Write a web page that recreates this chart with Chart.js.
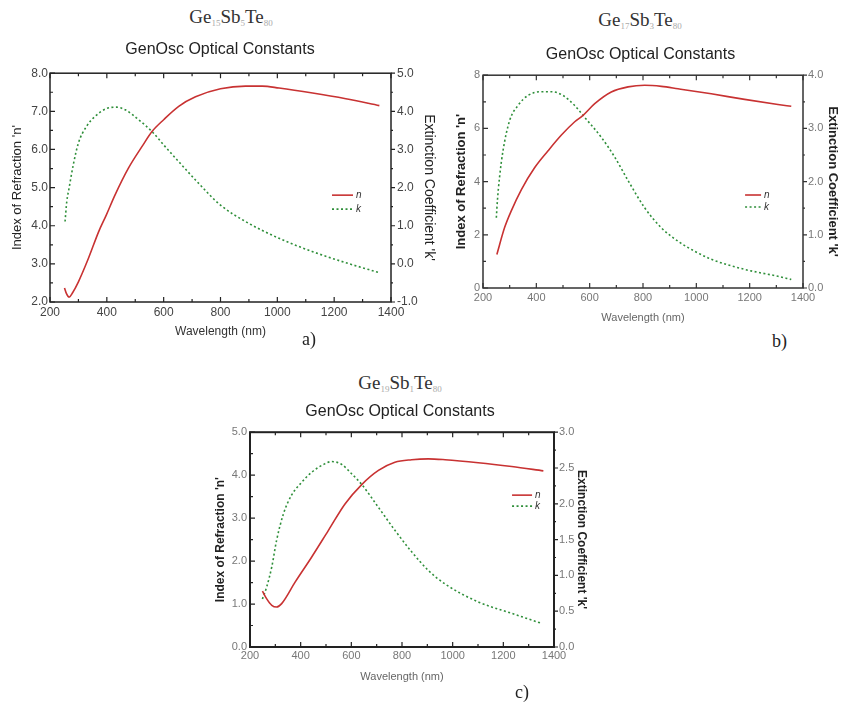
<!DOCTYPE html>
<html lang="en">

<head>
  <meta charset="UTF-8" />
  <title>GenOsc Optical Constants</title>
  <script src="https://cdn.jsdelivr.net/npm/chart.js"></script>
  <style>
    body { margin: 0; background: #fff; width: 841px; height: 705px; position: relative; overflow: hidden; }
    canvas { position: absolute; }
    .formula { position: absolute; transform: translateX(-50%); font-family: "Liberation Serif", "Times New Roman", serif;
      font-size: 19px; line-height: 1; color: #333; white-space: nowrap; }
    .formula sub { font-size: 9px; color: #aaa; vertical-align: -3px; }
    .tag { position: absolute; font-family: "Liberation Serif", "Times New Roman", serif; font-size: 18px; line-height: 1; color: #222; }
  </style>
</head>

<body>
  <div class="formula" style="left:231px; top:7px">Ge<sub>15</sub>Sb<sub>5</sub>Te<sub>80</sub></div>
  <div class="formula" style="left:640px; top:10px">Ge<sub>17</sub>Sb<sub>3</sub>Te<sub>80</sub></div>
  <div class="formula" style="left:400px; top:373px">Ge<sub>19</sub>Sb<sub>1</sub>Te<sub>80</sub></div>

  <canvas id="chartA" width="440" height="345" style="left:0; top:0"></canvas>
  <canvas id="chartB" width="401" height="330" style="left:440px; top:0"></canvas>
  <canvas id="chartC" width="400" height="335" style="left:200px; top:360px"></canvas>

  <div class="tag" style="left:302px; top:330px">a)</div>
  <div class="tag" style="left:772px; top:332px">b)</div>
  <div class="tag" style="left:515px; top:683px">c)</div>

  <script>
    // a) Ge15Sb5Te80
    const waveNA = [251, 258, 267, 280, 300, 335, 371, 398, 429, 476, 524, 559, 600, 653, 712, 800, 888, 947, 1006, 1124, 1241, 1359];
    const nA = [2.37, 2.22, 2.13, 2.25, 2.53, 3.14, 3.84, 4.28, 4.81, 5.51, 6.08, 6.47, 6.78, 7.13, 7.38, 7.59, 7.66, 7.66, 7.61, 7.48, 7.33, 7.15];
    const waveKA = [253, 259, 267, 282, 300, 329, 359, 398, 433, 465, 512, 559, 600, 653, 712, 800, 888, 1006, 1124, 1241, 1359];
    const kA = [1.11, 1.63, 1.98, 2.60, 3.17, 3.61, 3.87, 4.07, 4.11, 4.04, 3.78, 3.47, 3.12, 2.68, 2.20, 1.54, 1.11, 0.67, 0.32, 0.03, -0.23];

    // b) Ge17Sb3Te80
    const waveNB = [252, 281, 306, 344, 394, 444, 494, 544, 575, 619, 681, 744, 806, 869, 931, 1056, 1181, 1306, 1356];
    const nB = [1.26, 2.27, 2.90, 3.70, 4.53, 5.16, 5.75, 6.25, 6.49, 6.93, 7.37, 7.56, 7.62, 7.58, 7.49, 7.30, 7.09, 6.90, 6.83];
    const waveKB = [250, 254, 262, 275, 300, 331, 369, 419, 456, 500, 544, 581, 644, 694, 744, 806, 869, 931, 994, 1056, 1181, 1306, 1356];
    const kB = [1.32, 1.64, 2.08, 2.58, 3.15, 3.43, 3.62, 3.69, 3.69, 3.62, 3.43, 3.21, 2.83, 2.46, 2.02, 1.51, 1.13, 0.88, 0.69, 0.54, 0.35, 0.22, 0.16];

    // c) Ge19Sb1Te80
    const waveNC = [249, 266, 286, 305, 325, 378, 443, 509, 575, 641, 707, 772, 838, 904, 970, 1101, 1233, 1358];
    const nC = [1.30, 1.12, 0.97, 0.93, 1.01, 1.51, 2.09, 2.71, 3.33, 3.78, 4.11, 4.30, 4.36, 4.38, 4.36, 4.29, 4.20, 4.10];
    const waveKC = [249, 266, 286, 305, 332, 364, 404, 443, 496, 522, 562, 601, 641, 707, 772, 838, 904, 970, 1101, 1233, 1351];
    const kC = [0.67, 0.84, 1.12, 1.49, 1.86, 2.12, 2.30, 2.44, 2.56, 2.59, 2.55, 2.42, 2.27, 1.95, 1.63, 1.33, 1.07, 0.88, 0.63, 0.47, 0.33];

    const RED = "#c83232";
    const GREEN = "#2f8f3a";
    const SANS = "'Liberation Sans', Arial, sans-serif";

    function xyPoints(xs, ys) {
      return xs.map((x, i) => ({ x: x, y: ys[i] }));
    }

    // box around the plot with inward ticks (outward on the right axis)
    const frameTicks = {
      id: "frameTicks",
      afterDatasetsDraw(chart, args, o) {
        const ctx = chart.ctx;
        const a = chart.chartArea;
        ctx.save();
        ctx.setLineDash([]);
        ctx.strokeStyle = o.color;
        ctx.lineWidth = o.width;
        ctx.strokeRect(a.left, a.top, a.right - a.left, a.bottom - a.top);

        function marks(scale, minor, major, draw) {
          const count = Math.round((scale.max - scale.min) / minor);
          for (let i = 0; i <= count; i++) {
            const v = scale.min + i * minor;
            const isMajor = Math.abs(v / major - Math.round(v / major)) < 1e-6;
            draw(scale.getPixelForValue(v), isMajor ? 5 : 3);
          }
        }
        ctx.lineWidth = 1.2;
        ctx.beginPath();
        marks(chart.scales.x, 100, 200, (px, len) => {
          ctx.moveTo(px, a.bottom); ctx.lineTo(px, a.bottom - len);
          ctx.moveTo(px, a.top); ctx.lineTo(px, a.top + len);
        });
        marks(chart.scales.y, o.yMinor, o.yMajor, (py, len) => {
          ctx.moveTo(a.left, py); ctx.lineTo(a.left + len, py);
        });
        marks(chart.scales.y1, o.y1Minor, o.y1Major, (py, len) => {
          ctx.moveTo(a.right, py); ctx.lineTo(a.right + len - 1, py);
        });
        ctx.stroke();
        ctx.restore();
      }
    };

    // small n / k key inside the plot
    const insideLegend = {
      id: "insideLegend",
      afterDatasetsDraw(chart, args, o) {
        const ctx = chart.ctx;
        const a = chart.chartArea;
        const x0 = a.left + (a.right - a.left) * o.x;
        ctx.save();
        ctx.font = "italic 10px " + SANS;
        ctx.textBaseline = "middle";
        ctx.fillStyle = "#333";
        chart.data.datasets.forEach((ds, i) => {
          const y = a.top + (a.bottom - a.top) * o.y + i * o.gap;
          ctx.setLineDash(ds.borderDash || []);
          ctx.strokeStyle = ds.borderColor;
          ctx.lineWidth = ds.borderWidth;
          ctx.beginPath();
          ctx.moveTo(x0, y);
          ctx.lineTo(x0 + o.len, y);
          ctx.stroke();
          ctx.fillText(ds.label, x0 + o.len + 3, y);
        });
        ctx.restore();
      }
    };

    function drawPanel(id, p) {
      const tickFont = { family: SANS, size: p.tickSize };
      new Chart(document.getElementById(id), {
        type: "line",
        data: {
          datasets: [
            {
              label: "n", data: xyPoints(p.waveN, p.n), yAxisID: "y",
              borderColor: RED, borderWidth: 1.6, pointRadius: 0, cubicInterpolationMode: "monotone"
            },
            {
              label: "k", data: xyPoints(p.waveK, p.k), yAxisID: "y1",
              borderColor: GREEN, borderWidth: 1.6, borderDash: [2, 2.5], pointRadius: 0, cubicInterpolationMode: "monotone"
            }
          ]
        },
        options: {
          responsive: false,
          animation: false,
          devicePixelRatio: 1,
          layout: { padding: 0 },
          plugins: {
            legend: { display: false },
            tooltip: { enabled: false },
            title: {
              display: true, text: "GenOsc Optical Constants", color: "#222",
              font: { family: SANS, size: 16, weight: "normal" },
              padding: { top: p.titleTop, bottom: p.titleBottom }
            },
            frameTicks: { color: p.frameColor, width: p.frameWidth, yMajor: p.yMajor, yMinor: p.yMinor, y1Major: p.y1Major, y1Minor: p.y1Minor },
            insideLegend: p.legend
          },
          scales: {
            x: {
              type: "linear", min: 200, max: 1400,
              grid: { display: false, drawTicks: false },
              border: { display: false },
              ticks: { stepSize: 200, padding: p.xPad, color: p.tickColor, font: tickFont, maxRotation: 0, callback: v => String(v) },
              title: {
                display: true, text: "Wavelength (nm)", color: p.xTitleColor,
                font: { family: SANS, size: p.xTitleSize }, padding: { top: 0, bottom: p.xTitlePad }
              },
              afterFit: s => { s.height = p.xHeight; }
            },
            y: {
              position: "left", min: p.yMin, max: p.yMax,
              grid: { display: false, drawTicks: false },
              border: { display: false },
              ticks: { stepSize: p.yMajor, padding: p.yPad, color: p.tickColor, font: tickFont, callback: v => v.toFixed(p.yDec) },
              title: {
                display: true, text: "Index of Refraction 'n'", color: "#222",
                font: { family: SANS, size: p.axisTitleSize, weight: p.axisTitleWeight }, padding: { top: p.yTitlePad, bottom: 0 }
              },
              afterFit: s => { s.width = p.yWidth; }
            },
            y1: {
              position: "right", min: p.y1Min, max: p.y1Max,
              grid: { display: false, drawTicks: false },
              border: { display: false },
              ticks: { stepSize: p.y1Major, padding: p.y1Pad, color: p.tickColor, font: tickFont, callback: v => v.toFixed(1) },
              title: {
                display: true, text: "Extinction Coefficient 'k'", color: "#222",
                font: { family: SANS, size: p.y1TitleSize, weight: p.axisTitleWeight }, padding: { top: p.y1TitlePad, bottom: 0 }
              },
              afterFit: s => { s.width = p.y1Width; }
            }
          }
        },
        plugins: [frameTicks, insideLegend]
      });
    }

    drawPanel("chartA", {
      waveN: waveNA, n: nA, waveK: waveKA, k: kA,
      titleTop: 39.5, titleBottom: 14.5,
      yMin: 2, yMax: 8, yMajor: 1, yMinor: 0.5, yDec: 1,
      y1Min: -1, y1Max: 5, y1Major: 1, y1Minor: 0.5,
      yWidth: 50, y1Width: 49, xHeight: 43,
      tickSize: 12, tickColor: "#444", xPad: 3, yPad: 2, y1Pad: 6,
      axisTitleSize: 13, y1TitleSize: 14, axisTitleWeight: "normal", yTitlePad: 10, y1TitlePad: 3,
      xTitleSize: 12, xTitleColor: "#333", xTitlePad: 6,
      frameColor: "#222", frameWidth: 1.5,
      legend: { x: 0.827, y: 0.533, gap: 14, len: 21 }
    });

    drawPanel("chartB", {
      waveN: waveNB, n: nB, waveK: waveKB, k: kB,
      titleTop: 44.5, titleBottom: 11.5,
      yMin: 0, yMax: 8, yMajor: 2, yMinor: 1, yDec: 0,
      y1Min: 0, y1Max: 4, y1Major: 1, y1Minor: 0.5,
      yWidth: 43, y1Width: 38, xHeight: 42,
      tickSize: 11, tickColor: "#777", xPad: 3, yPad: 3, y1Pad: 5,
      axisTitleSize: 13, y1TitleSize: 13, axisTitleWeight: "bold", yTitlePad: 14, y1TitlePad: 1,
      xTitleSize: 11, xTitleColor: "#666", xTitlePad: 5,
      frameColor: "#333", frameWidth: 1.5,
      legend: { x: 0.819, y: 0.563, gap: 12, len: 16 }
    });

    drawPanel("chartC", {
      waveN: waveNC, n: nC, waveK: waveKC, k: kC,
      titleTop: 41.5, titleBottom: 11.5,
      yMin: 0, yMax: 5, yMajor: 1, yMinor: 0.5, yDec: 1,
      y1Min: 0, y1Max: 3, y1Major: 0.5, y1Minor: 0.25,
      yWidth: 50, y1Width: 46, xHeight: 48,
      tickSize: 11, tickColor: "#777", xPad: 2, yPad: 3, y1Pad: 5,
      axisTitleSize: 12, y1TitleSize: 12, axisTitleWeight: "bold", yTitlePad: 13, y1TitlePad: 11,
      xTitleSize: 11, xTitleColor: "#666", xTitlePad: 11,
      frameColor: "#222", frameWidth: 2,
      legend: { x: 0.862, y: 0.293, gap: 11, len: 20 }
    });
  </script>
</body>

</html>
